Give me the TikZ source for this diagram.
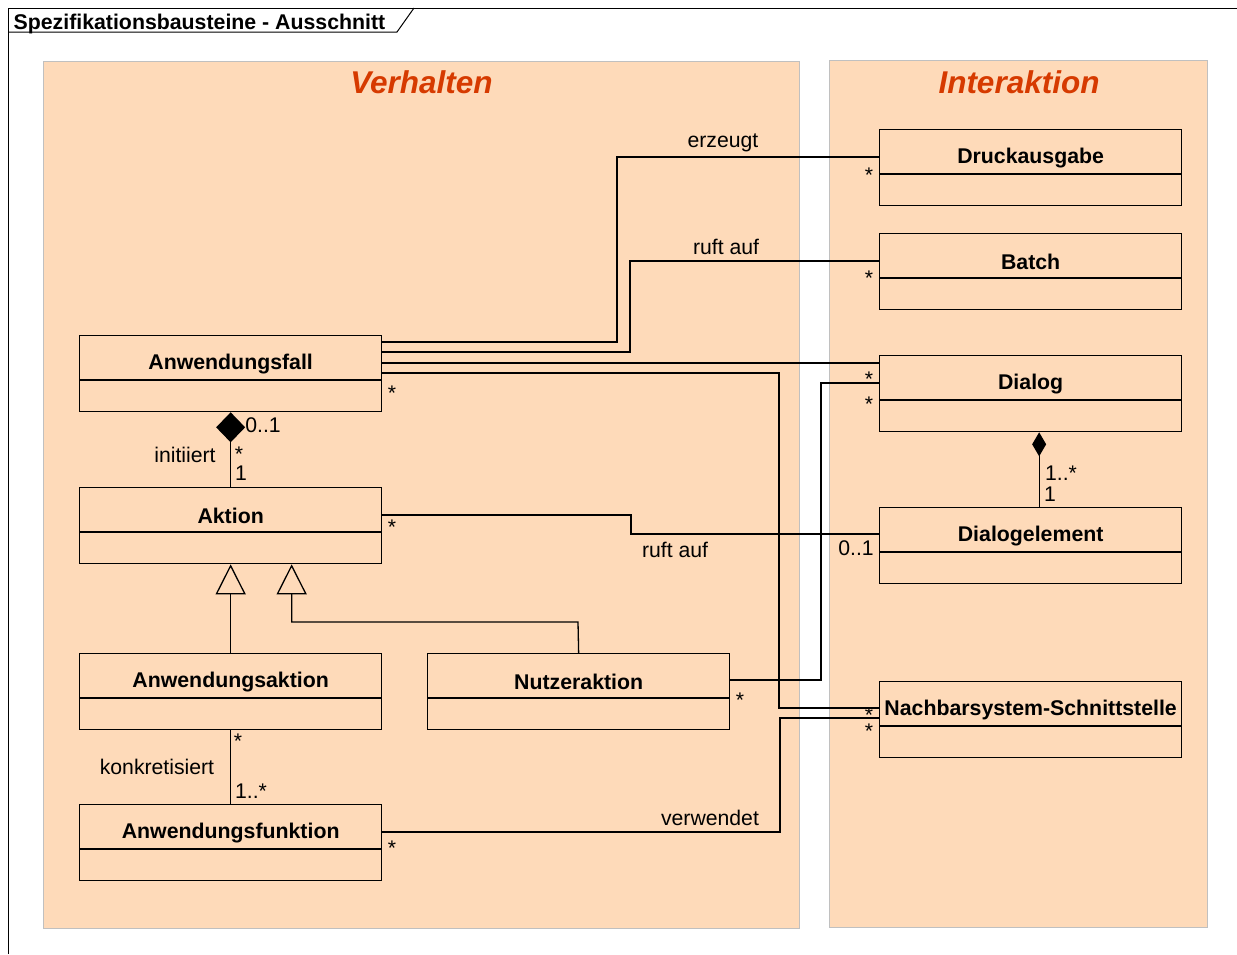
\documentclass[tikz,border=0pt]{standalone}
\usepackage{fontspec}
\setmainfont{Liberation Sans}
\usetikzlibrary{arrows.meta}
\definecolor{peach}{RGB}{254,218,185}
\definecolor{titlered}{RGB}{214,58,0}
\definecolor{pkgborder}{RGB}{192,192,192}
\newcommand\umlcls[4]{%
  \node[cls] (#1) at (#2,#3) {};
  \draw ([yshift=-45pt]#1.north west) -- ([yshift=-45pt]#1.north east);
  \node[font=\fontsize{21.3}{25}\selectfont\bfseries, inner sep=0] at ([yshift=-29pt]#1.north) {#4};}
\begin{document}
\begin{tikzpicture}[x=1pt,y=-1pt, line width=1.3pt,
  font=\fontsize{21.2}{25}\selectfont,
  cls/.style={draw, fill=peach, minimum width=302pt, minimum height=76pt, anchor=north west, inner sep=0},
  pkg/.style={draw=pkgborder, fill=peach, line width=1pt},
  ttl/.style={font=\fontsize{31.5}{36}\selectfont\bfseries\itshape, text=titlered, inner sep=0},
  lbl/.style={inner sep=0},
  mult/.style={inner sep=0, yshift=-3pt},
  comp/.style={{Diamond[length=30pt,width=29pt]}-},
  gen/.style={-{Triangle[open,length=30pt,width=30pt,line width=1.3pt]}}]
\useasboundingbox (0,0) rectangle (1237,954);
\fill[white] (0,0) rectangle (1237,954);
% frame
\draw[line width=1pt] (8,954) -- (8,8) -- (1237,8);
\draw[line width=1pt] (8,32) -- (397,32) -- (414,8);
\node[lbl, anchor=base west, font=\fontsize{21.3}{25}\selectfont\bfseries] (frm) at (13,29) {Spezifikationsbausteine - Ausschnitt};
% packages
\draw[pkg] (43,61) rectangle (799,928);
\draw[pkg] (829,60) rectangle (1207,927);
\node[ttl] (tv) at (421.5,82) {Verhalten};
\node[ttl] (ti) at (1019,82) {Interaktion};
% classes
\umlcls{af}{79}{335}{Anwendungsfall}
\umlcls{akt}{79}{487}{Aktion}
\umlcls{aakt}{79}{653}{Anwendungsaktion}
\umlcls{nakt}{427}{653}{Nutzeraktion}
\umlcls{afun}{79}{804}{Anwendungsfunktion}
\umlcls{druck}{879}{129}{Druckausgabe}
\umlcls{batch}{879}{233}{Batch}
\umlcls{dlg}{879}{355}{Dialog}
\umlcls{delem}{879}{507}{Dialogelement}
\umlcls{nachbar}{879}{681}{Nachbarsystem-Schnittstelle}
% associations
\draw ([yshift=-7pt]af.north east) -| (617,157) -- ([yshift=-28pt]druck.north west);
\draw ([yshift=-17pt]af.north east) -| (630,261) -- ([yshift=-28pt]batch.north west);
\draw ([yshift=-28pt]af.north east) -- ([yshift=-8pt]dlg.north west);
\draw ([yshift=-38pt]af.north east) -| (779,708) -- ([yshift=-27pt]nachbar.north west);
\draw ([yshift=-27pt]nakt.north east) -| (821,383) -- ([yshift=-28pt]dlg.north west);
\draw ([yshift=-28pt]afun.north east) -| (780,718) -- ([yshift=-37pt]nachbar.north west);
\draw ([yshift=-28pt]akt.north east) -| (631,534) -- ([yshift=-27pt]delem.north west);
\draw (aakt.south) -- (afun.north);
% compositions
\draw[comp] (af.south) -- (akt.north);
\draw[{Diamond[length=24pt,width=14pt]}-] ([xshift=8.5pt]dlg.south) -- ([xshift=8.5pt]delem.north);
% generalizations
\draw[gen] (aakt.north) -- (akt.south);
\draw[gen] (nakt.north) -- (578,622) -| ([xshift=61pt]akt.south);
% labels
\node[lbl] (l1) at (723,143) {erzeugt};
\node[lbl] (l2) at (726,247) {ruft auf};
\node[lbl] (l3) at (675,550) {ruft auf};
\node[lbl] (l4) at (710,818) {verwendet};
\node[lbl] (l5) at (185,455) {initiiert};
\node[lbl] (l6) at (157,767) {konkretisiert};
\node[lbl] (m1) at (869,172) [mult] {*};
\node[lbl] (m2) at (869,275) [mult] {*};
\node[lbl] (m3) at (869,376) [mult] {*};
\node[lbl] (m4) at (869,401) [mult] {*};
\node[lbl] (m5) at (392,390) [mult] {*};
\node[lbl] (m6) at (740,697) [mult] {*};
\node[lbl] (m7) at (869,712) [mult] {*};
\node[lbl] (m8) at (869,728) [mult] {*};
\node[lbl] (m9) at (392,524) [mult] {*};
\node[lbl] (m10) at (392,845) [mult] {*};
\node[lbl] (m11) at (239,451) [mult] {*};
\node[lbl] (m12) at (238,738) [mult] {*};
\node[lbl] (n1) at (856,548) {0..1};
\node[lbl] (n2) at (263,425) {0..1};
\node[lbl] (n3) at (241,473) {1};
\node[lbl] (n4) at (1061,473) {1..*};
\node[lbl] (n5) at (1050,494) {1};
\node[lbl] (n6) at (251,791) {1..*};
\end{tikzpicture}
\end{document}
